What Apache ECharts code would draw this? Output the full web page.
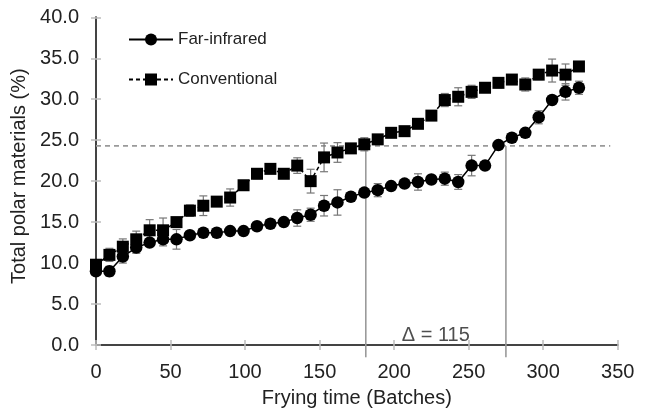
<!DOCTYPE html>
<html>
<head>
<meta charset="utf-8">
<script src="https://cdn.jsdelivr.net/npm/echarts@6/dist/echarts.min.js"></script>
<style>
html,body{margin:0;padding:0;background:#fff;}
#chart{width:649px;height:413px;}
</style>
</head>
<body>
<div id="chart"></div>
<script>
var batches = [0,9,18,27,36,45,54,63,72,81,90,99,108,117,126,135,144,153,162,171,180,189,198,207,216,225,234,243,252,261,270,279,288,297,306,315,324];
var farInfrared = [9.0,9.0,10.8,11.9,12.5,12.9,12.9,13.4,13.7,13.7,13.9,13.9,14.5,14.8,15.0,15.5,15.9,17.0,17.4,18.1,18.6,18.9,19.4,19.7,19.9,20.2,20.3,19.9,21.9,21.9,24.4,25.3,25.9,27.8,29.9,30.9,31.4];
var farInfraredErr = [0.5,0.6,0.8,0.7,0.4,0.8,1.2,0.3,0.3,0.3,0.3,0.3,0.3,0.3,0.3,1.0,0.8,1.25,1.55,0.3,0.3,0.8,0.3,0.3,1.0,0.3,0.8,0.9,1.25,0.3,0.3,0.3,0.3,0.8,0.3,1.0,0.8];
var conventional = [9.8,11.0,12.0,12.9,14.0,14.0,15.0,16.4,17.0,17.5,18.0,19.5,20.9,21.5,20.9,21.9,20.0,22.9,23.5,24.0,24.5,25.1,25.9,26.1,27.0,28.0,29.9,30.3,30.9,31.4,32.0,32.4,31.8,33.0,33.5,33.0,34.0];
var conventionalErr = [0.5,0.8,0.95,1.0,1.3,1.5,0.3,0.7,1.2,0.3,1.05,0.3,0.6,0.3,0.3,0.95,1.45,1.75,1.2,0.3,0.8,0.3,0.5,0.5,0.3,0.3,0.8,1.1,0.8,0.3,0.6,0.3,0.8,0.6,1.4,1.3,0.3];
var yTicks = ['0.0','5.0','10.0','15.0','20.0','25.0','30.0','35.0','40.0'];
var xTicks = ['0','50','100','150','200','250','300','350'];
var threshold = 24.3;
var thresholdEnd = 345;
var crossConventional = 181;
var crossFarInfrared = 275;
var lineBottom = -1.5;
var deltaLabel = '\u0394 = 115';
var deltaPos = [228, 1.2];

var FONT = 'Liberation Sans, Arial, sans-serif';
var TXT = '#222';
var AX = '#bdbdbd';

function pairs(xs, ys){ return xs.map(function(x,i){ return [x, ys[i]]; }); }
function errData(xs, ys, es){ return xs.map(function(x,i){ return [x, ys[i]-es[i], ys[i]+es[i]]; }); }

function errRender(params, api){
  var x = api.value(0);
  var lo = api.coord([x, api.value(1)]);
  var hi = api.coord([x, api.value(2)]);
  var cap = 4;
  var st = {stroke:'#777', lineWidth:1.2};
  return {type:'group', children:[
    {type:'line', shape:{x1:lo[0],y1:lo[1],x2:hi[0],y2:hi[1]}, style:st},
    {type:'line', shape:{x1:lo[0]-cap,y1:lo[1],x2:lo[0]+cap,y2:lo[1]}, style:st},
    {type:'line', shape:{x1:hi[0]-cap,y1:hi[1],x2:hi[0]+cap,y2:hi[1]}, style:st}
  ]};
}

var chart = echarts.init(document.getElementById('chart'), null, {renderer:'canvas'});
var gridOpt = {left:96, right:31.3, top:17.3, bottom:67.3, containLabel:false};
var baseX = {type:'value', min:0, max:350, interval:50, splitLine:{show:false}};
var baseY = {type:'value', min:0, max:40, interval:5, splitLine:{show:false}};

chart.setOption({
  animation:false,
  backgroundColor:'#fff',
  grid: gridOpt,
  legend:{
    orient:'vertical', left:128, top:31, padding:0, itemWidth:44, itemHeight:15, itemGap:23,
    textStyle:{fontFamily:FONT, fontSize:17, color:TXT, padding:[0,0,0,0]},
    data:['Far-infrared','Conventional']
  },
  xAxis:[
    Object.assign({}, baseX, {
      position:'bottom',
      name:'Frying time (Batches)', nameLocation:'middle', nameGap:43,
      nameTextStyle:{fontFamily:FONT, fontSize:20, color:TXT},
      axisLine:{show:true, lineStyle:{color:AX, width:2}},
      axisTick:{show:true, inside:false, length:5, lineStyle:{color:AX, width:1.5}},
      axisLabel:{fontFamily:FONT, fontSize:20, color:TXT, margin:17, formatter:function(v){ return xTicks[Math.round(v/50)]; }}
    }),
    Object.assign({}, baseX, {
      position:'bottom',
      axisLine:{show:false}, axisLabel:{show:false},
      axisTick:{show:true, inside:true, length:5, lineStyle:{color:AX, width:1.5}}
    }),
    Object.assign({}, baseX, {
      position:'top',
      axisLine:{show:true, lineStyle:{color:'#444', width:2}}, axisLabel:{show:false}, axisTick:{show:false}
    })
  ],
  yAxis:[
    Object.assign({}, baseY, {
      position:'left',
      name:'Total polar materials (%)', nameLocation:'middle', nameGap:64,
      nameTextStyle:{fontFamily:FONT, fontSize:20, color:TXT, padding:[0,0,0,10]},
      axisLine:{show:true, lineStyle:{color:AX, width:2}},
      axisTick:{show:true, inside:false, length:5, lineStyle:{color:AX, width:1.5}},
      axisLabel:{fontFamily:FONT, fontSize:20, color:TXT, margin:17, formatter:function(v){ return yTicks[Math.round(v/5)]; }}
    }),
    Object.assign({}, baseY, {
      position:'left',
      axisLine:{show:false}, axisLabel:{show:false},
      axisTick:{show:true, inside:true, length:5, lineStyle:{color:AX, width:1.5}}
    }),
    Object.assign({}, baseY, {
      position:'right',
      axisLine:{show:true, lineStyle:{color:'#444', width:2}}, axisLabel:{show:false}, axisTick:{show:false}
    })
  ],
  series:[
    {
      name:'threshold', type:'line', data:[[0,threshold],[thresholdEnd,threshold]],
      symbol:'none', silent:true, z:1,
      lineStyle:{color:'#9a9a9a', width:1.8, type:[5,4]}
    },
    {
      name:'v1', type:'line', data:[[crossConventional,threshold],[crossConventional,lineBottom]],
      symbol:'none', silent:true, clip:false, z:1,
      lineStyle:{color:'#9a9a9a', width:1.6}
    },
    {
      name:'v2', type:'line', data:[[crossFarInfrared,threshold],[crossFarInfrared,lineBottom]],
      symbol:'none', silent:true, clip:false, z:1,
      lineStyle:{color:'#9a9a9a', width:1.6}
    },
    {
      name:'errC', type:'custom', renderItem:errRender, data:errData(batches, conventional, conventionalErr), z:2, silent:true
    },
    {
      name:'errF', type:'custom', renderItem:errRender, data:errData(batches, farInfrared, farInfraredErr), z:2, silent:true
    },
    {
      name:'Conventional', type:'line', data:pairs(batches, conventional),
      symbol:'rect', symbolSize:12, z:3,
      itemStyle:{color:'#000'},
      lineStyle:{color:'#000', width:1.5, type:[4,3]}
    },
    {
      name:'Far-infrared', type:'line', data:pairs(batches, farInfrared),
      symbol:'circle', symbolSize:12.5, z:4,
      itemStyle:{color:'#000'},
      lineStyle:{color:'#000', width:1.5}
    },
    {
      name:'delta', type:'scatter', data:[deltaPos], symbolSize:0, silent:true,
      label:{show:true, position:'inside', formatter:deltaLabel, fontFamily:FONT, fontSize:20, color:TXT}
    }
  ]
});
</script>
</body>
</html>
